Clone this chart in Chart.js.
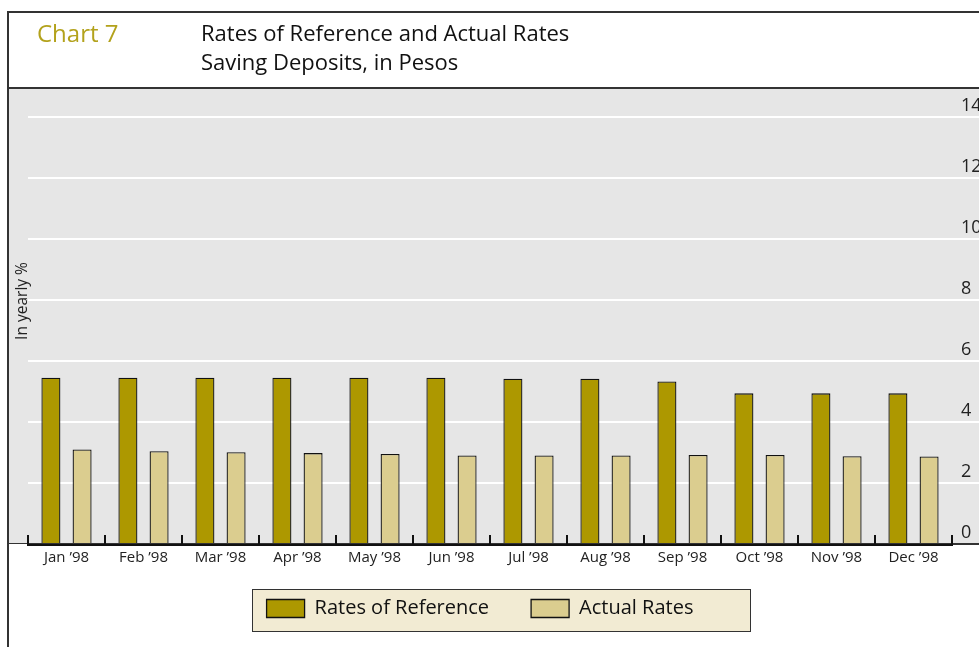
<!DOCTYPE html>
<html>
<head>
<meta charset="utf-8">
<script src="https://cdn.jsdelivr.net/npm/chart.js@4"></script>
<style>
  html, body { margin: 0; padding: 0; background: #fff; }
  #wrap { position: relative; width: 979px; height: 647px; overflow: hidden; font-family: 'Open Sans', sans-serif; }
  .frame { position: absolute; left: 7px; top: 11px; width: 980px; height: 640px;
           border-left: 2px solid #333; border-top: 2px solid #333; }
  .hline { position: absolute; left: 7px; top: 87px; width: 980px; height: 2px; background: #333; }
  #chartNo { position: absolute; left: 37px; top: 17px; font-size: 24px; color: #b3a21c; line-height: 32px; }
  #title { position: absolute; left: 201px; top: 18px; font-size: 22px; color: #111; line-height: 29px; }
  #ytitle { position: absolute; left: 21px; top: 301px; font-size: 15.5px; color: #222;
            transform: translate(-50%, -50%) rotate(-90deg); white-space: nowrap; }
  /* canvas starts left of the frame so the legend centres where the original one sits */
  #box { position: absolute; left: -19px; top: 89px; width: 998px; height: 558px; }
</style>
</head>
<body>
<div id="wrap">
  <div id="box"><canvas id="chart"></canvas></div>
  <div class="frame"></div>
  <div class="hline"></div>
  <div id="chartNo">Chart 7</div>
  <div id="title">Rates of Reference and Actual Rates<br>Saving Deposits, in Pesos</div>
  <div id="ytitle">In yearly %</div>
</div>
<script>
const months = ['Jan \u201998', 'Feb \u201998', 'Mar \u201998', 'Apr \u201998', 'May \u201998', 'Jun \u201998',
                'Jul \u201998', 'Aug \u201998', 'Sep \u201998', 'Oct \u201998', 'Nov \u201998', 'Dec \u201998'];
const referenceRates = [5.45, 5.45, 5.45, 5.45, 5.45, 5.45, 5.42, 5.42, 5.33, 4.94, 4.94, 4.94];
const actualRates = [3.10, 3.04, 3.01, 2.98, 2.95, 2.90, 2.90, 2.90, 2.92, 2.92, 2.88, 2.87];
const yTicks = [0, 2, 4, 6, 8, 10, 12, 14];

const PANEL_LEFT = 28; // frame edge inside the canvas

// grey panel behind the plot, tick marks on the axis, legend frame
const panel = {
  id: 'panel',
  beforeDraw(chart) {
    const { ctx, chartArea } = chart;
    ctx.save();
    ctx.fillStyle = '#e6e6e6';
    ctx.fillRect(PANEL_LEFT, 0, chart.width - PANEL_LEFT, chartArea.bottom);
    ctx.fillStyle = '#f2ebd3';
    ctx.fillRect(271, 500, 499, 43);
    ctx.strokeStyle = '#333';
    ctx.lineWidth = 1;
    ctx.strokeRect(271.5, 500.5, 498, 42);
    ctx.restore();
  },
  afterDatasetsDraw(chart) {
    const { ctx, chartArea } = chart;
    const x = chart.scales.x;
    ctx.save();
    ctx.strokeStyle = '#333';
    ctx.lineWidth = 1;
    ctx.beginPath();
    ctx.moveTo(PANEL_LEFT, chartArea.bottom - 0.5);
    ctx.lineTo(chart.width, chartArea.bottom - 0.5);
    ctx.stroke();
    ctx.strokeStyle = '#111';
    ctx.lineWidth = 2;
    const step = x.width / months.length;
    for (let i = 0; i <= months.length; i++) {
      const px = Math.round(x.left + i * step);
      ctx.beginPath();
      ctx.moveTo(px, chartArea.bottom - 9);
      ctx.lineTo(px, chartArea.bottom + 1);
      ctx.stroke();
    }
    ctx.restore();
  }
};

new Chart(document.getElementById('chart'), {
  type: 'bar',
  data: {
    labels: months,
    datasets: [
      {
        label: 'Rates of Reference',
        data: referenceRates,
        yAxisID: 'y',
        backgroundColor: '#ad9800',
        borderColor: '#111',
        borderWidth: 1.3,
        categoryPercentage: 0.81,
        barPercentage: 0.61
      },
      {
        label: 'Actual Rates',
        data: actualRates,
        yAxisID: 'y',
        backgroundColor: '#dbcd8f',
        borderColor: '#111',
        borderWidth: 1.3,
        categoryPercentage: 0.81,
        barPercentage: 0.61
      }
    ]
  },
  options: {
    responsive: true,
    maintainAspectRatio: false,
    animation: false,
    layout: { padding: { top: 28, left: 0, right: 0, bottom: 18.5 } },
    plugins: {
      legend: {
        position: 'bottom',
        labels: {
          boxWidth: 38,
          boxHeight: 18,
          padding: 42,
          color: '#111',
          font: { family: 'Open Sans', size: 20 }
        }
      },
      tooltip: { enabled: false }
    },
    scales: {
      x: {
        grid: { display: false, drawTicks: false },
        border: { display: true, color: '#111', width: 3 },
        ticks: {
          mirror: true, // keeps labels from being clipped to the thin axis box
          padding: -23,
          color: '#222',
          font: { family: 'Open Sans', size: 15 }
        },
        afterFit(scale) { scale.height = 12.5; }
      },
      yl: {
        position: 'left',
        display: true,
        min: 0,
        max: 14,
        grid: { display: false },
        border: { display: false },
        ticks: { display: false },
        afterFit(scale) { scale.width = 47; }
      },
      y: {
        position: 'right',
        min: 0,
        max: 14,
        afterBuildTicks(scale) { scale.ticks = yTicks.map(v => ({ value: v })); },
        grid: {
          color: ctx => (ctx.tick && ctx.tick.value === 0 ? '#333' : '#ffffff'),
          lineWidth: ctx => (ctx.tick && ctx.tick.value === 0 ? 1 : 2),
          drawTicks: true,
          tickLength: 27
        },
        border: { display: false },
        ticks: {
          padding: -18,
          color: '#222',
          font: { family: 'Open Sans', size: 18 },
          callback: v => [String(v), '']
        },
        afterFit(scale) { scale.width = 27; }
      }
    }
  },
  plugins: [panel]
});
</script>
</body>
</html>
